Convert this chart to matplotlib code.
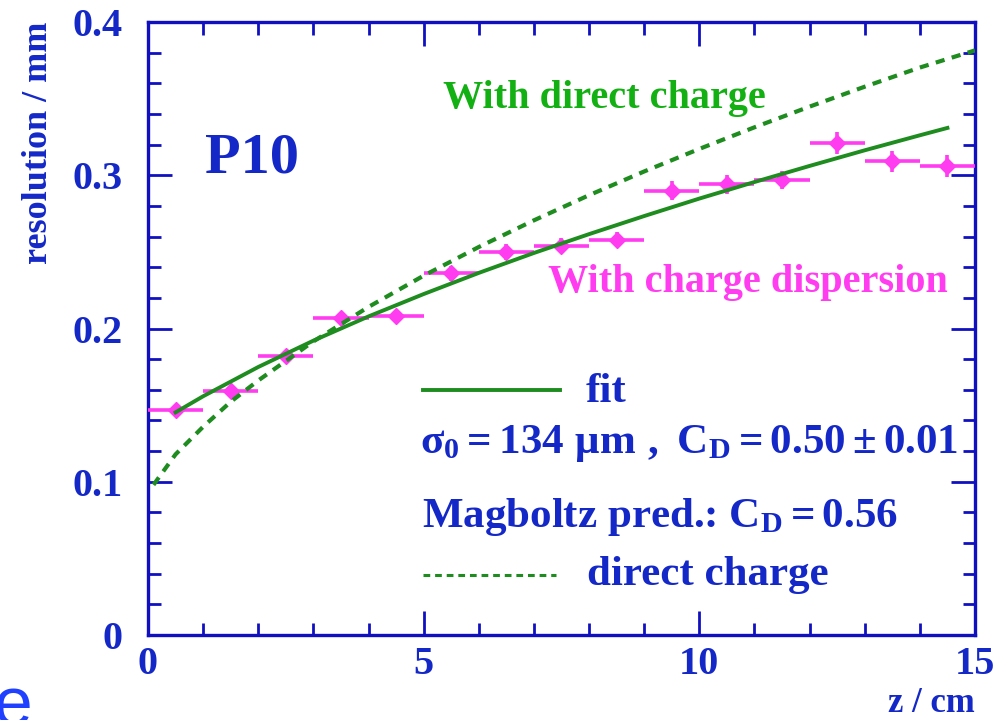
import numpy as np
import matplotlib.pyplot as plt
from matplotlib.ticker import MultipleLocator

plt.rcParams['font.family'] = ['Liberation Serif', 'DejaVu Serif']
plt.rcParams['font.weight'] = 'bold'
plt.rcParams['axes.labelweight'] = 'bold'
plt.rcParams['mathtext.fontset'] = 'custom'
plt.rcParams['mathtext.rm'] = 'Liberation Serif:bold'
plt.rcParams['mathtext.it'] = 'Liberation Serif:bold'
plt.rcParams['mathtext.bf'] = 'Liberation Serif:bold'

# -------------------------
# Data
# -------------------------
z_meas = [0.5, 1.5, 2.5, 3.5, 4.5, 5.5, 6.5, 7.5, 8.5, 9.5, 10.5, 11.5, 12.5, 13.5, 14.5]
res_meas = [0.147, 0.159, 0.182, 0.207, 0.208, 0.236, 0.250, 0.254, 0.258,
            0.290, 0.294, 0.297, 0.321, 0.309, 0.306]
res_err = [0.004, 0.004, 0.004, 0.004, 0.004, 0.005, 0.005, 0.005, 0.005,
           0.006, 0.006, 0.006, 0.007, 0.007, 0.007]
z_binhalf = [0.5] * len(z_meas)

# fit curve (solid)
z_fit = [0.5, 1, 2, 3, 4, 5, 6, 7, 8, 9, 10, 11, 12, 13, 14, 14.5]
res_fit = [0.1453, 0.1558, 0.1749, 0.1921, 0.2079, 0.2225, 0.2363, 0.2493,
           0.2616, 0.2734, 0.2848, 0.2956, 0.3061, 0.3163, 0.3261, 0.3309]

# direct charge prediction (dashed)
z_dir = [0.1, 0.5, 1, 1.5, 2, 3, 4, 5, 6, 7, 8, 9, 10, 11, 12, 13, 14, 15]
res_dir = [0.0980, 0.1179, 0.1359, 0.1522, 0.1661, 0.1916, 0.2141, 0.2345,
           0.2532, 0.2706, 0.2870, 0.3025, 0.3172, 0.3313, 0.3448, 0.3578,
           0.3703, 0.3815]

blue = '#1428c8'
frame_blue = '#1010c0'
green = '#1e8c1e'
green_txt = '#12b012'
pink = '#ff3cf0'

fig = plt.figure(figsize=(10.04, 7.2), dpi=100)
ax = fig.add_axes([0.1474, 0.118, 0.8237, 0.8514])

ax.errorbar(z_meas, res_meas, xerr=z_binhalf, yerr=res_err, fmt='D', color=pink,
            ms=8.5, elinewidth=2.6, capsize=0, zorder=3)
ax.plot(z_fit, res_fit, '-', color=green, lw=2.8, zorder=4)
ax.plot(z_dir, res_dir, '--', color=green, lw=3.0, dashes=(2.2, 1.8), zorder=4)

ax.set_xlim(0, 15)
ax.set_ylim(0, 0.4)
ax.xaxis.set_minor_locator(MultipleLocator(1))
ax.yaxis.set_minor_locator(MultipleLocator(0.02))
ax.set_xticks([0, 5, 10, 15])
ax.set_xticklabels(['0', '5', '10', '15'])
ax.set_yticks([0, 0.1, 0.2, 0.3, 0.4])
ax.set_yticklabels(['0', '0.1', '0.2', '0.3', '0.4'])

ax.tick_params(which='both', direction='in', top=True, right=True,
               color=frame_blue, width=2, labelcolor=blue, labelsize=29)
ax.tick_params(which='major', length=17)
ax.tick_params(which='minor', length=9)
ax.tick_params(axis='x', pad=8)
ax.tick_params(axis='y', pad=18)
for s in ax.spines.values():
    s.set_color(frame_blue)
    s.set_linewidth(2.4)

ax.set_xlabel('z / cm', color=blue, fontsize=25, loc='right', labelpad=3)
ax.set_ylabel('resolution / mm', color=blue, fontsize=26, loc='top', labelpad=13)

# annotations
ax.text(1.03, 0.302, 'P10', color=blue, fontsize=42)
ax.text(5.35, 0.344, 'With direct charge', color=green_txt, fontsize=29)
ax.text(7.26, 0.224, 'With charge dispersion', color=pink, fontsize=29)

# hand-made legend
ax.plot([4.99, 7.47], [0.160, 0.160], '-', color=green, lw=2.8)
ax.text(7.93, 0.152, 'fit', color=blue, fontsize=31)
ax.text(4.93, 0.119, r'$\mathrm{σ_0 = 134\ μm\ ,\ C_D = 0.50 \pm 0.01}$',
        color=blue, fontsize=31)
ax.text(4.97, 0.0705, r'Magboltz pred.: $\mathrm{C_D = 0.56}$', color=blue, fontsize=31)
ax.plot([4.99, 7.4], [0.039, 0.039], '--', color=green, lw=2.2, dashes=(2.2, 1.6))
ax.text(7.96, 0.0326, 'direct charge', color=blue, fontsize=31)

# leftover slide text at the lower left corner
fig.text(-0.006, -0.008, 'e', color='#2040ff', fontsize=50,
         family='Liberation Sans', weight='normal')

fig.savefig('out.png', dpi=100)
